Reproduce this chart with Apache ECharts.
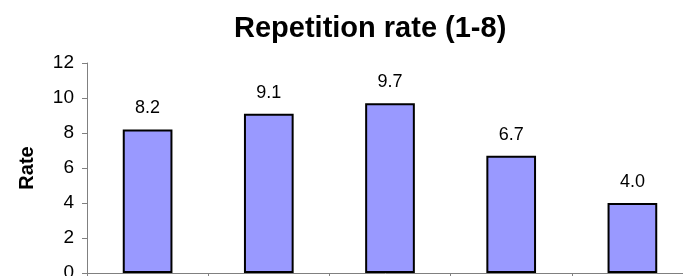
<!DOCTYPE html>
<html>
<head>
<meta charset="utf-8">
<script src="https://cdn.jsdelivr.net/npm/echarts@6/dist/echarts.min.js"></script>
<style>
  html, body { margin: 0; padding: 0; background: #fff; }
  #main { width: 683px; height: 276px; }
</style>
</head>
<body>
<div id="main"></div>
<script>
// categories sit below the visible area in the reference
var categories = ['A', 'B', 'C', 'D', 'E'];
var rates = [8.2, 9.1, 9.7, 6.7, 4.0];
var yTicks = { min: 0, max: 12, interval: 2 };

var chart = echarts.init(document.getElementById('main'));

var font = 'Arial, "Liberation Sans", sans-serif';

var option = {
  animation: false,
  title: {
    text: 'Repetition rate (1-8)',
    left: 229,
    top: 9,
    textStyle: {
      fontFamily: font,
      fontSize: 29,
      fontWeight: 'bold',
      color: '#000'
    }
  },
  grid: {
    left: 87,
    top: 63,
    width: 606,
    height: 210,
    outerBoundsMode: 'none'
  },
  xAxis: {
    type: 'category',
    data: categories,
    axisLine: { lineStyle: { color: '#808080', width: 1 } },
    axisTick: { show: true, length: 5, lineStyle: { color: '#808080' } },
    axisLabel: { show: false }
  },
  yAxis: {
    type: 'value',
    min: yTicks.min,
    max: yTicks.max,
    interval: yTicks.interval,
    name: 'Rate',
    nameLocation: 'middle',
    nameGap: 50,
    nameTextStyle: {
      fontFamily: font,
      fontSize: 20,
      fontWeight: 'bold',
      color: '#000'
    },
    axisLine: { show: true, lineStyle: { color: '#808080', width: 1 } },
    axisTick: { show: true, length: 5, lineStyle: { color: '#808080' } },
    splitLine: { show: false },
    axisLabel: {
      margin: 13,
      fontFamily: font,
      fontSize: 19,
      color: '#000'
    }
  },
  series: [
    {
      type: 'bar',
      data: rates,
      barWidth: '41%',
      itemStyle: {
        color: '#9999FF',
        borderColor: '#000',
        borderWidth: 2
      },
      label: {
        show: true,
        position: 'top',
        distance: 12,
        fontFamily: font,
        fontSize: 18,
        color: '#000',
        formatter: function (p) {
          return p.value.toFixed(1);
        }
      }
    }
  ]
};

chart.setOption(option);
</script>
</body>
</html>
